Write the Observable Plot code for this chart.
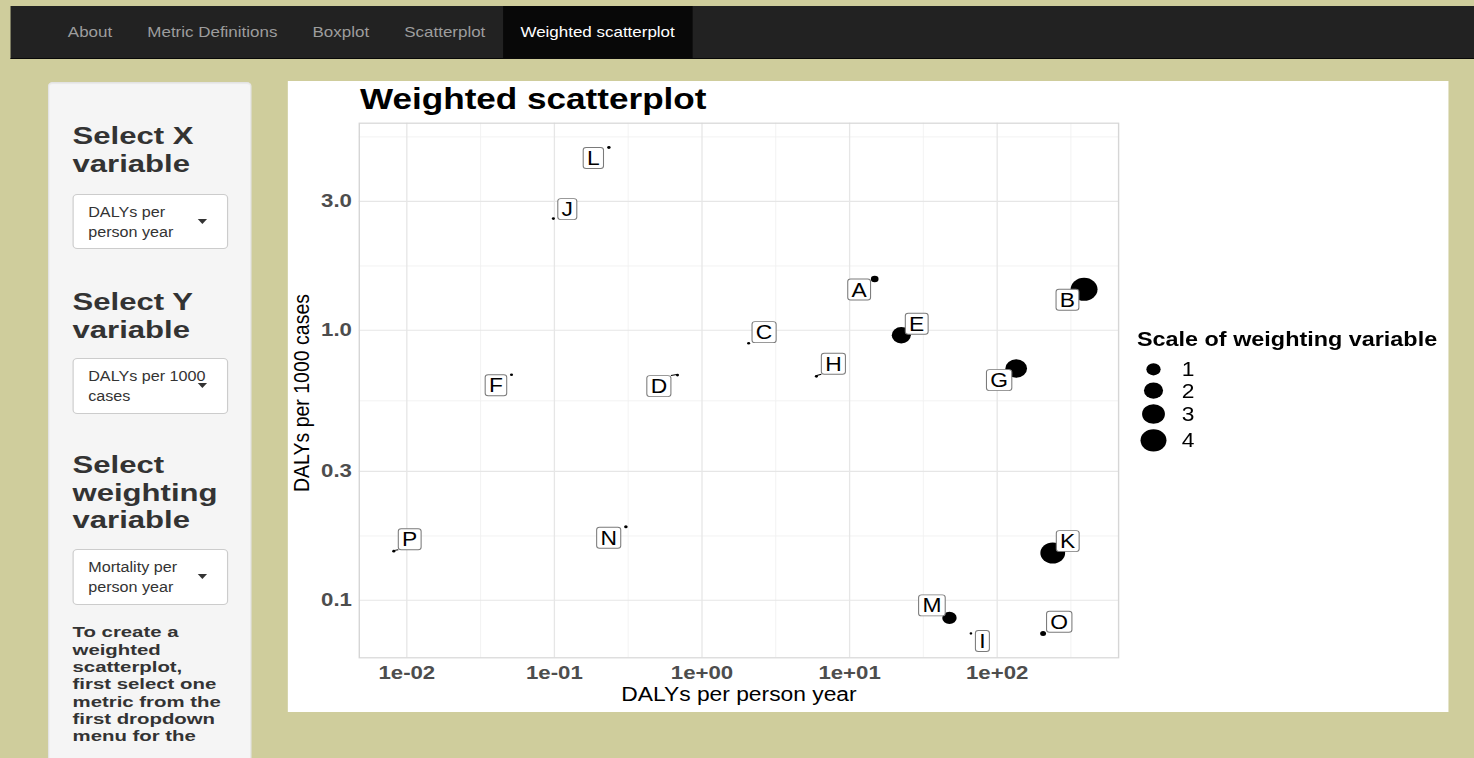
<!DOCTYPE html>
<html>
<head>
<meta charset="utf-8">
<script src="https://cdn.jsdelivr.net/npm/d3@7"></script>
<script src="https://cdn.jsdelivr.net/npm/@observablehq/plot@0.6"></script>
<style>
  html, body { margin: 0; padding: 0; width: 1474px; height: 758px; overflow: hidden; background: #cfcd9c; }
  #page { position: absolute; left: 0; top: 0; width: 1260px; height: 758px;
          transform: scaleX(1.17); transform-origin: 0 0;
          font-family: "Liberation Sans", Arial, Helvetica, sans-serif; color: #333; }
  .navbar { position: absolute; left: 8.5px; top: 6px; width: 1252px; height: 52px; background: #222;
            border-bottom: 1px solid #080808; }
  .navbar ul { list-style: none; margin: 0; padding: 0; position: absolute; left: 34.5px; top: 0; display: flex; }
  .navbar li { padding: 0 15px; line-height: 52px; font-size: 14.5px; color: #9d9d9d; white-space: nowrap; }
  .navbar li.active { background: #080808; color: #fff; }
  .well { position: absolute; left: 41.3px; top: 82px; width: 172px; height: 720px; background: #f5f5f5;
          border: 1px solid #e3e3e3; border-radius: 4px; box-shadow: inset 0 1px 1px rgba(0,0,0,.05); }
  .h { position: absolute; left: 61.8px; font-size: 23.5px; font-weight: bold; line-height: 27.3px; color: #333;
       white-space: nowrap; transform: scaleX(1.13); transform-origin: 0 0; }
  .select { position: absolute; left: 62.4px; width: 130.5px; background: #fff; border: 1px solid #ccc; border-radius: 4px; }
  .select .txt { position: absolute; left: 12px; top: 8px; font-size: 13.8px; line-height: 20px; color: #333; white-space: nowrap; }
  .select .caret { position: absolute; left: 105.5px; top: 24px; width: 0; height: 0;
                   border-left: 4.5px solid transparent; border-right: 4.5px solid transparent; border-top: 5px solid #333; }
  .help { position: absolute; left: 61.8px; top: 623.4px; font-size: 15px; font-weight: bold; line-height: 17.3px; color: #333;
          white-space: nowrap; transform: scaleX(1.16); transform-origin: 0 0; }
  .card { position: absolute; left: 246.2px; top: 81px; width: 992.3px; height: 631px; background: #fff; }
  .title { position: absolute; left: 307.7px; top: 84.1px; font-size: 30px; line-height: 30px; font-weight: bold; color: #000; white-space: nowrap; }
  #chart { position: absolute; left: 250px; top: 118px; }
  #legend { position: absolute; left: 960px; top: 320px; }
</style>
</head>
<body>
<div id="page">
  <div class="navbar">
    <ul>
      <li>About</li>
      <li>Metric Definitions</li>
      <li>Boxplot</li>
      <li>Scatterplot</li>
      <li class="active">Weighted scatterplot</li>
    </ul>
  </div>

  <div class="well"></div>
  <div class="h" style="top:123.4px">Select X<br>variable</div>
  <div class="select" style="top:194px;height:53px"><div class="txt">DALYs per<br>person year</div><div class="caret"></div></div>
  <div class="h" style="top:289.4px">Select Y<br>variable</div>
  <div class="select" style="top:358px;height:54px"><div class="txt">DALYs per 1000<br>cases</div><div class="caret"></div></div>
  <div class="h" style="top:452.4px">Select<br>weighting<br>variable</div>
  <div class="select" style="top:549px;height:54px"><div class="txt">Mortality per<br>person year</div><div class="caret"></div></div>
  <div class="help">To create a<br>weighted<br>scatterplot,<br>first select one<br>metric from the<br>first dropdown<br>menu for the</div>

  <div class="card"></div>
  <div class="title">Weighted scatterplot</div>
  <div id="chart"></div>
  <div id="legend"></div>
</div>

<script>
const FONT = '"Liberation Sans", Arial, Helvetica, sans-serif';

// Pathogens and their metrics
const pathogens = ["A", "B", "C", "D", "E", "F", "G", "H", "I", "J", "K", "L", "M", "N", "O", "P"];
const dalysPerPersonYear = [14.8, 388, 2.07, 0.682, 22.4, 0.0512, 134.6, 5.96, 66.4, 0.0984, 238, 0.234, 47.5, 0.305, 204.7, 0.00816];
const dalysPer1000Cases = [1.547, 1.418, 0.895, 0.682, 0.958, 0.684, 0.721, 0.675, 0.0753, 2.59, 0.1496, 4.75, 0.086, 0.187, 0.0753, 0.152];
const mortalityPerPersonYear = [0.19, 4.33, 0.002, 0.002, 1.99, 0.002, 2.66, 0.002, 0.0001, 0.002, 3.6, 0.006, 1.02, 0.0064, 0.08, 0.002];

// Axis breaks
const xTicks = [0.01, 0.1, 1, 10, 100];
const xTickLabels = ["1e-02", "1e-01", "1e+00", "1e+01", "1e+02"];
const xMinorTicks = [0.0316, 0.316, 3.16, 31.6, 316];
const yTicks = [0.1, 0.3, 1, 3];
const yTickLabels = ["0.1", "0.3", "1.0", "3.0"];
const yMinorTicks = [0.173, 0.548, 1.73, 5.2];

// Size legend
const legendTitle = "Scale of weighting variable";
const legendValues = [1, 2, 3, 4];

// Label box placement relative to each point (px), and which labels get a leader line
const labelPlacement = {
  A: [-12.8, 11], B: [-13.7, 11], C: [13.7, -10.6], D: [-15.4, 11.5],
  E: [13.7, -11], F: [-12.8, 11], G: [-14.1, 12], H: [15, -12],
  I: [10.3, 8], J: [12.4, -9], K: [13.3, -11.4], L: [-12.8, 11],
  M: [-14.5, -12], N: [-14.2, 11.4], O: [14.3, -11.3], P: [14.1, -11.4]
};
const leaderLines = ["D", "H", "P"];

const points = pathogens.map((id, i) => ({
  id, x: dalysPerPersonYear[i], y: dalysPer1000Cases[i], w: mortalityPerPersonYear[i]
}));

// log-scale limits with 5% expansion, as ggplot does
function expandedLog(values) {
  const [lo, hi] = d3.extent(values, v => Math.log10(v));
  const pad = (hi - lo) * 0.05;
  return [Math.pow(10, lo - pad), Math.pow(10, hi + pad)];
}

const rOptions = {type: "sqrt", domain: [0, 4], range: [1.1, 11.1]};

// Label boxes (geom_label style) drawn with the plot's own x/y scales
function labelLayer(index, scales) {
  const g = d3.create("svg:g");
  const ctx = document.createElement("canvas").getContext("2d");
  ctx.font = `19.5px ${FONT}`;
  const h = 21;
  for (const d of points) {
    const px = scales.x(d.x), py = scales.y(d.y);
    const [dx, dy] = labelPlacement[d.id];
    const cx = px + dx, cy = py + dy;
    const w = ctx.measureText(d.id).width + 6.5;
    if (leaderLines.includes(d.id)) {
      const nx = Math.max(cx - w / 2, Math.min(px, cx + w / 2));
      const ny = Math.max(cy - h / 2, Math.min(py, cy + h / 2));
      g.append("line").attr("x1", px).attr("y1", py).attr("x2", nx).attr("y2", ny)
        .attr("stroke", "#000").attr("stroke-width", 1);
    }
    g.append("rect").attr("x", cx - w / 2).attr("y", cy - h / 2).attr("width", w).attr("height", h)
      .attr("rx", 2.5).attr("fill", "#fff").attr("stroke", "#7a7a7a").attr("stroke-width", 0.9);
    g.append("text").attr("x", cx).attr("y", cy + 7).attr("text-anchor", "middle")
      .attr("font-family", FONT).attr("font-size", 19.5).attr("fill", "#000").text(d.id);
  }
  return g.node();
}

const chart = Plot.plot({
  width: 720,
  height: 594,
  marginLeft: 56.58,
  marginRight: 14.44,
  marginTop: 4.7,
  marginBottom: 54.7,
  style: {background: "transparent", fontFamily: FONT, overflow: "visible"},
  x: {type: "log", domain: expandedLog(dalysPerPersonYear), axis: null},
  y: {type: "log", domain: expandedLog(dalysPer1000Cases), axis: null},
  r: rOptions,
  marks: [
    Plot.ruleX(xMinorTicks, {stroke: "#f0f0f0", strokeWidth: 0.8}),
    Plot.ruleY(yMinorTicks, {stroke: "#f0f0f0", strokeWidth: 0.8}),
    Plot.ruleX(xTicks, {stroke: "#e6e6e6", strokeWidth: 1.1}),
    Plot.ruleY(yTicks, {stroke: "#e6e6e6", strokeWidth: 1.1}),
    Plot.frame({stroke: "#d6d6d6", strokeWidth: 1.2}),
    Plot.text(xTicks, {x: d => d, text: (d, i) => xTickLabels[i], frameAnchor: "bottom", dy: 15,
      textAnchor: "middle", lineAnchor: "middle", fontSize: 19, fontWeight: "bold", fill: "#4d4d4d"}),
    Plot.text(yTicks, {y: d => d, text: (d, i) => yTickLabels[i], frameAnchor: "left", dx: -6.3,
      textAnchor: "end", lineAnchor: "middle", fontSize: 19, fontWeight: "bold", fill: "#4d4d4d"}),
    Plot.text(["DALYs per person year"], {text: d => d, frameAnchor: "bottom", dy: 37,
      textAnchor: "middle", lineAnchor: "middle", fontSize: 19.5, fill: "#000"}),
    Plot.text(["DALYs per 1000 cases"], {text: d => d, frameAnchor: "left", dx: -48.9, dy: 2.5,
      rotate: -90, textAnchor: "middle", lineAnchor: "middle", fontSize: 19.5, fill: "#000"}),
    Plot.dot(points, {x: "x", y: "y", r: "w", fill: "#000", stroke: "none"}),
    labelLayer
  ]
});
document.getElementById("chart").append(chart);

// Size legend using the same radius scale as the dots
const rScale = Plot.scale({r: rOptions});
const legend = d3.select("#legend").append("svg").attr("width", 280).attr("height", 140)
  .attr("font-family", FONT);
legend.append("text").attr("x", 11.8).attr("y", 26).attr("font-size", 20).attr("font-weight", "bold")
  .attr("fill", "#000").text(legendTitle);
let cy = 49.3, prevH = null;
legendValues.forEach(v => {
  const r = rScale.apply(v);
  const keyH = Math.max(20.7, 2 * r + 5.5);
  if (prevH !== null) cy += (prevH + keyH) / 2;
  prevH = keyH;
  legend.append("circle").attr("cx", 25.9).attr("cy", cy).attr("r", r).attr("fill", "#000");
  legend.append("text").attr("x", 50).attr("y", cy + 7).attr("font-size", 19.5).attr("fill", "#000").text(v);
});
</script>
</body>
</html>
